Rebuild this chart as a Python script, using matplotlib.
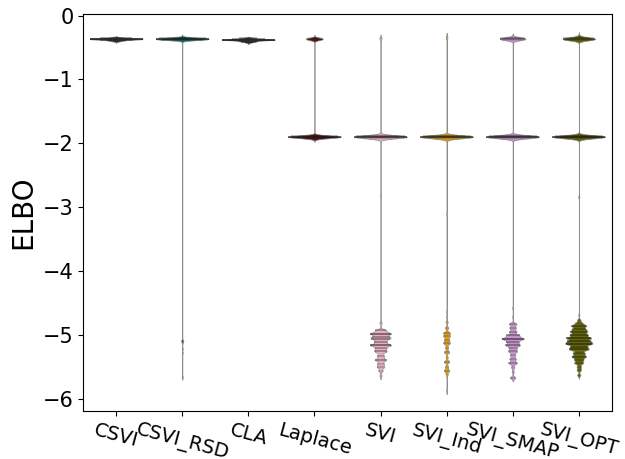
import numpy as np
import matplotlib
matplotlib.use("Agg")
import matplotlib.pyplot as plt

methods = ["CSVI", "CSVI_RSD", "CLA", "Laplace", "SVI", "SVI_Ind", "SVI_SMAP", "SVI_OPT"]
colors = ["#2e2e2e", "#136a6a", "#2e2e2e", "#5a1616", "#e6b0bf", "#dd9c1c", "#c594c9", "#66660a"]

# ELBO values per method, as (value, count) pairs
csvi_vals = [-0.34, -0.35, -0.36, -0.37, -0.38, -0.39, -0.40, -0.41]
csvi_cnts = [3, 9, 14, 45, 14, 11, 7, 2]

rsd_vals = [-0.34, -0.35, -0.36, -0.37, -0.38, -5.09, -5.12, -5.22, -5.28, -5.66]
rsd_cnts = [2, 5, 10, 34, 8, 2, 1, 1, 1, 1]

cla_vals = [-0.35, -0.36, -0.37, -0.38, -0.39, -0.40, -0.41, -0.42, -0.43]
cla_cnts = [5, 11, 15, 45, 15, 12, 9, 5, 2]

laplace_vals = [-0.35, -0.36, -0.37, -0.38, -1.93, -1.92, -1.91, -1.90, -1.89, -1.88, -1.87]
laplace_cnts = [2, 4, 8, 3, 2, 5, 10, 25, 10, 5, 2]

svi_vals = [-0.36, -1.93, -1.92, -1.91, -1.90, -1.89, -1.88, -1.87, -2.83,
            -4.81, -4.93, -4.98, -5.03, -5.06, -5.11, -5.16, -5.21, -5.26, -5.33, -5.39,
            -5.45, -5.50, -5.56, -5.64]
svi_cnts = [2, 2, 5, 10, 25, 10, 5, 2, 1,
            2, 10, 19, 12, 13, 11, 19, 10, 11, 7, 11,
            6, 7, 4, 2]

ind_vals = [-0.33, -0.36, -1.93, -1.92, -1.91, -1.90, -1.89, -1.88, -1.87, -3.11,
            -4.64, -4.72, -4.80, -4.89, -4.97, -5.02, -5.08, -5.13, -5.20, -5.27,
            -5.35, -5.42, -5.50, -5.56, -5.62, -5.87]
ind_cnts = [1, 1, 2, 5, 10, 25, 10, 5, 2, 1,
            1, 1, 2, 3, 6, 6, 5, 6, 3, 5,
            2, 5, 3, 5, 2, 1]

smap_vals = [-0.34, -0.35, -0.36, -0.37, -0.38, -1.93, -1.92, -1.91, -1.90, -1.89, -1.88, -1.87,
             -4.58, -4.72, -4.83, -4.89, -4.95, -5.01, -5.06, -5.11, -5.16, -5.21,
             -5.26, -5.32, -5.38, -5.44, -5.51, -5.58, -5.67]
smap_cnts = [1, 3, 8, 12, 3, 2, 5, 10, 25, 10, 5, 2,
             1, 1, 7, 6, 7, 12, 20, 11, 13, 7,
             8, 5, 6, 8, 3, 2, 5]

opt_vals = [-0.32, -0.34, -0.35, -0.36, -0.37, -0.38, -0.39,
            -1.93, -1.92, -1.91, -1.90, -1.89, -1.88, -1.87, -2.84,
            -4.69, -4.77, -4.82, -4.86, -4.91, -4.95, -5.00, -5.05, -5.10, -5.14,
            -5.19, -5.23, -5.29, -5.34, -5.39, -5.44, -5.50, -5.55, -5.63]
opt_cnts = [1, 2, 4, 8, 14, 6, 2,
            2, 5, 10, 25, 10, 5, 2, 1,
            1, 3, 6, 13, 11, 14, 16, 22, 19, 22,
            14, 16, 11, 13, 8, 8, 4, 4, 3]

all_vals = [csvi_vals, rsd_vals, cla_vals, laplace_vals, svi_vals, ind_vals, smap_vals, opt_vals]
all_cnts = [csvi_cnts, rsd_cnts, cla_cnts, laplace_cnts, svi_cnts, ind_cnts, smap_cnts, opt_cnts]
bandwidths = [0.007, 0.015, 0.007, 0.016, 0.02, 0.02, 0.02, 0.02]


def kde(data, bw, grid):
    d = (grid[:, None] - data[None, :]) / bw
    return np.exp(-0.5 * d ** 2).sum(axis=1) / (len(data) * bw * np.sqrt(2 * np.pi))


fig = plt.figure(figsize=(6.25, 4.59), dpi=100)
ax = fig.add_axes([0.133, 0.105, 0.846, 0.864])

for i, (vals, cnts) in enumerate(zip(all_vals, all_cnts)):
    data = np.repeat(np.array(vals), cnts)
    bw = bandwidths[i]
    grid = np.linspace(data.min() - 3 * bw, data.max() + 3 * bw, 6000)
    dens = kde(data, bw, grid)
    half = 0.4 * dens / dens.max()
    ax.fill_betweenx(grid, i - half, i + half, facecolor=colors[i],
                     edgecolor="#8c8c8c", linewidth=0.5, zorder=2)
    # one stick per observation
    obs_half = 0.4 * kde(data, bw, data) / dens.max()
    ax.hlines(data, i - obs_half, i + obs_half, color="#2a2a2a",
              linewidth=0.25, alpha=0.2, zorder=3)

ax.set_xlim(-0.5, 7.5)
ax.set_ylim(-6.19, 0.02)
ax.set_xticks(range(len(methods)))
ax.set_xticklabels(methods, rotation=-15, fontsize=14)
ax.set_yticks([0, -1, -2, -3, -4, -5, -6])
ax.tick_params(axis="y", labelsize=15)
ax.set_ylabel("ELBO", fontsize=20)

fig.savefig("out.png", dpi=100)
